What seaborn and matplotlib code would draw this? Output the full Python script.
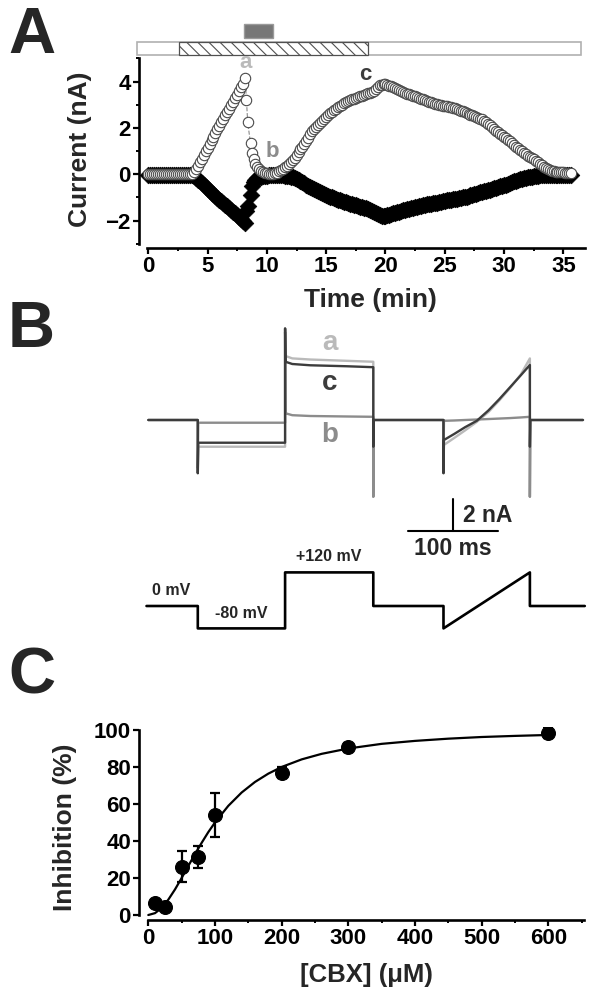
import numpy as np
import matplotlib
matplotlib.use("Agg")
import matplotlib.pyplot as plt
import matplotlib.transforms as mtransforms
from matplotlib.patches import Rectangle
from matplotlib.ticker import MultipleLocator
import seaborn as sns

# ---------------- Panel A: current time course ----------------
# 10 s sampling grid (min) + the fast points recorded between a and b
t_early = np.arange(0, 50) / 6.0
t_drop = np.array([8.28, 8.38, 8.62, 8.78, 8.9])
t_late = np.arange(54, 215) / 6.0
time_min = np.concatenate([t_early, t_drop, t_late])

# outward current at +120 mV (open circles), one row per minute
out_early = [0.0] * 18 + [
    0.0, 0.0, 0.0, 0.0, 0.02, 0.08,
    0.25, 0.38, 0.52, 0.68, 0.84, 1.0,
    1.15, 1.31, 1.47, 1.63, 1.79, 1.95,
    2.1, 2.25, 2.4, 2.55, 2.69, 2.84,
    2.98, 3.13, 3.28, 3.43, 3.59, 3.75,
    3.9, 4.15,
]
out_drop = [3.21, 2.27, 1.33, 0.9, 0.65]
out_late = [
    0.45, 0.32, 0.22, 0.15, 0.1, 0.07,
    0.05, 0.03, 0.02, 0.02, 0.04, 0.07,
    0.15, 0.2, 0.25, 0.3, 0.36, 0.44,
    0.52, 0.62, 0.72, 0.85, 0.97, 1.1,
    1.18, 1.32, 1.45, 1.58, 1.72, 1.85,
    1.95, 2.05, 2.14, 2.22, 2.31, 2.4,
    2.48, 2.56, 2.64, 2.7, 2.77, 2.83,
    2.9, 2.95, 3.0, 3.06, 3.12, 3.17,
    3.2, 3.23, 3.27, 3.3, 3.33, 3.37,
    3.4, 3.43, 3.47, 3.5, 3.53, 3.57,
    3.6, 3.68, 3.76, 3.84, 3.87, 3.88,
    3.88, 3.86, 3.83, 3.8, 3.76, 3.72,
    3.68, 3.65, 3.61, 3.57, 3.52, 3.48,
    3.45, 3.42, 3.39, 3.36, 3.33, 3.29,
    3.26, 3.23, 3.19, 3.16, 3.13, 3.1,
    3.08, 3.05, 3.02, 3.0, 2.98, 2.96,
    2.95, 2.94, 2.92, 2.91, 2.88, 2.85,
    2.82, 2.79, 2.75, 2.72, 2.68, 2.64,
    2.61, 2.58, 2.54, 2.51, 2.47, 2.43,
    2.4, 2.37, 2.31, 2.25, 2.18, 2.11,
    2.03, 1.96, 1.89, 1.82, 1.75, 1.68,
    1.62, 1.55, 1.48, 1.42, 1.35, 1.27,
    1.2, 1.13, 1.07, 1.0, 0.93, 0.87,
    0.8, 0.75, 0.69, 0.64, 0.58, 0.51,
    0.45, 0.39, 0.33, 0.27, 0.22, 0.18,
    0.15, 0.13, 0.11, 0.1, 0.09, 0.09,
    0.08, 0.07, 0.07, 0.06, 0.05,
]
out_current = np.array(out_early + out_drop + out_late)

# inward current at -80 mV (filled symbols)
in_early = [-0.03] * 18 + [
    -0.03, -0.03, -0.03, -0.03, -0.04, -0.08,
    -0.15, -0.23, -0.31, -0.39, -0.47, -0.55,
    -0.63, -0.71, -0.79, -0.86, -0.94, -1.01,
    -1.09, -1.16, -1.24, -1.31, -1.38, -1.46,
    -1.54, -1.61, -1.69, -1.77, -1.85, -1.93,
    -2.0, -2.1,
]
in_drop = [-1.6, -1.35, -0.9, -0.5, -0.32]
in_late = [
    -0.25, -0.18, -0.13, -0.1, -0.08, -0.07,
    -0.06, -0.05, -0.05, -0.04, -0.04, -0.04,
    -0.04, -0.05, -0.05, -0.06, -0.07, -0.08,
    -0.1, -0.13, -0.16, -0.19, -0.23, -0.27,
    -0.33, -0.38, -0.44, -0.49, -0.54, -0.58,
    -0.63, -0.68, -0.72, -0.76, -0.8, -0.84,
    -0.88, -0.92, -0.96, -1.0, -1.03, -1.07,
    -1.1, -1.13, -1.15, -1.18, -1.21, -1.23,
    -1.26, -1.29, -1.31, -1.34, -1.37, -1.39,
    -1.42, -1.45, -1.47, -1.5, -1.54, -1.58,
    -1.62, -1.66, -1.7, -1.74, -1.78, -1.8,
    -1.78, -1.76, -1.74, -1.72, -1.69, -1.67,
    -1.64, -1.61, -1.59, -1.56, -1.53, -1.51,
    -1.48, -1.46, -1.44, -1.42, -1.39, -1.37,
    -1.35, -1.33, -1.31, -1.29, -1.28, -1.27,
    -1.25, -1.23, -1.22, -1.2, -1.18, -1.17,
    -1.15, -1.13, -1.12, -1.1, -1.08, -1.06,
    -1.05, -1.03, -1.01, -1.0, -0.98, -0.96,
    -0.94, -0.91, -0.89, -0.86, -0.83, -0.81,
    -0.78, -0.76, -0.73, -0.71, -0.68, -0.66,
    -0.63, -0.6, -0.58, -0.55, -0.52, -0.5,
    -0.47, -0.44, -0.41, -0.38, -0.35, -0.31,
    -0.28, -0.25, -0.22, -0.2, -0.17, -0.15,
    -0.13, -0.12, -0.1, -0.09, -0.08, -0.06,
    -0.05, -0.04, -0.03, -0.02, -0.01, -0.01,
    -0.02, -0.03, -0.03, -0.04, -0.05, -0.05,
    -0.05, -0.05, -0.05, -0.05, -0.05,
]
in_current = np.array(in_early + in_drop + in_late)

# application bars (min)
recording_span = (-0.96, 36.45)
cbx_span = (2.6, 18.5)
drug_span = (8.08, 10.55)

# ---------------- Panel B: current traces and protocol ----------------
trace_ms = [0, 55, 55, 55.5, 152, 152, 152.5, 160, 180, 220, 250, 250, 250.5,
            328, 328, 328.5, 340, 352, 365, 378, 390, 402, 414, 424, 424, 424.5, 483]
trace_a = [0, 0, -3.3, -1.67, -1.67, 5.7, 4.0, 3.85, 3.78, 3.7, 3.64, -4.8, 0,
           0, -3.3, -1.56, -1.12, -0.65, -0.12, 0.5, 1.22, 2.0, 2.85, 3.85, -4.8, 0, 0]
trace_b = [0, 0, -3.0, -0.17, -0.17, 5.5, 0.42, 0.3, 0.25, 0.22, 0.2, -4.8, 0,
           0, -3.0, -0.05, -0.03, 0.0, 0.03, 0.06, 0.09, 0.12, 0.16, 0.2, -4.8, 0, 0]
trace_c = [0, 0, -3.33, -1.42, -1.42, 5.73, 3.64, 3.5, 3.42, 3.36, 3.3, -1.67, 0,
           0, -3.33, -1.25, -0.87, -0.45, -0.05, 0.6, 1.3, 2.05, 2.8, 3.44, -1.67, 0, 0]

volt_ms = [-2, 55, 55, 152, 152, 250, 250, 328, 328, 424, 424, 485]
volt_mv = [0, 0, -80, -80, 120, 120, 0, 0, -80, 120, 0, 0]

# ---------------- Panel C: dose response ----------------
cbx_um = [10, 25, 50, 75, 100, 200, 300, 600]
inhibition = [6.3, 4.5, 26.1, 31.5, 54.0, 76.9, 90.6, 98.5]
inhibition_sem = [2.0, 2.0, 8.5, 6.0, 12.0, 3.0, 2.5, 3.0]

fit_um = [0, 10, 20, 30, 40, 50, 60, 70, 80, 90, 100, 120, 140, 160, 180, 200,
          230, 260, 300, 350, 400, 450, 500, 550, 600]
fit_pct = [0, 1.0, 3.8, 8.3, 13.8, 20.0, 26.5, 32.9, 39.0, 44.8, 50.0, 59.0, 66.2,
           71.9, 76.4, 80.0, 84.1, 87.1, 90.0, 92.5, 94.1, 95.3, 96.2, 96.8, 97.3]

COL_A = "#bababa"
COL_B = "#8c8c8c"
COL_C = "#3c3c3c"

sns.set_theme(style="ticks")
plt.rcParams["font.family"] = ["Liberation Sans", "DejaVu Sans"]
plt.rcParams["font.weight"] = "bold"
plt.rcParams["axes.labelweight"] = "bold"
plt.rcParams["hatch.linewidth"] = 0.8

fig = plt.figure(figsize=(6.0, 10.01), dpi=100)


def style_axes(ax, xbounds, ybounds):
    for side in ("top", "right"):
        ax.spines[side].set_visible(False)
    for side in ("left", "bottom"):
        ax.spines[side].set_linewidth(1.9)
        ax.spines[side].set_color("black")
    ax.spines["left"].set_bounds(*ybounds)
    ax.spines["bottom"].set_bounds(*xbounds)
    ax.tick_params(which="major", direction="out", length=4, width=1.6,
                   labelsize=16, pad=2, color="black", labelcolor="black")
    ax.tick_params(which="minor", direction="out", length=2.5, width=1.4, color="black")


# ---- A ----
axA = fig.add_axes([139 / 600, 1 - 248 / 1001, 446 / 600, 190 / 1001])
sns.scatterplot(x=time_min, y=in_current, marker="D", s=72, color="black",
                edgecolor="black", linewidth=0.5, ax=axA, zorder=2)
sns.lineplot(x=time_min, y=out_current, sort=False, estimator=None, color="#8a8a8a",
             lw=0.8, linestyle="--", ax=axA, zorder=3)
sns.scatterplot(x=time_min, y=out_current, marker="o", s=56, color="white",
                edgecolor="#4a4a4a", linewidth=0.8, ax=axA, zorder=4)
axA.set_xlim(-0.78, 36.82)
axA.set_ylim(-3.18, 5.02)
axA.xaxis.set_major_locator(MultipleLocator(5))
axA.xaxis.set_minor_locator(MultipleLocator(2.5))
axA.yaxis.set_major_locator(MultipleLocator(2))
axA.yaxis.set_minor_locator(MultipleLocator(1))
style_axes(axA, (-0.1, 36.82), (-3, 5))
axA.set_xlabel("Time (min)", fontsize=19, va="center")
axA.set_ylabel("Current (nA)", fontsize=19, va="center")
axA.xaxis.set_label_coords(0.518, -0.274)
axA.yaxis.set_label_coords(-0.132, 0.52)
axA.text(8.2, 4.82, "a", color=COL_A, fontsize=16, ha="center", va="center", zorder=5)
axA.text(10.45, 1.0, "b", color=COL_B, fontsize=16, ha="center", va="center", zorder=5)
axA.text(18.3, 4.3, "c", color=COL_C, fontsize=16, ha="center", va="center", zorder=5)

bar_tr = mtransforms.blended_transform_factory(axA.transData, axA.transAxes)
axA.add_patch(Rectangle((recording_span[0], 1.014), recording_span[1] - recording_span[0], 0.072,
                        transform=bar_tr, clip_on=False, facecolor="white",
                        edgecolor="#b0b0b0", lw=1.2))
axA.add_patch(Rectangle((cbx_span[0], 1.014), cbx_span[1] - cbx_span[0], 0.072,
                        transform=bar_tr, clip_on=False, facecolor="white",
                        edgecolor="#505050", hatch="\\\\\\", lw=0.9))
axA.add_patch(Rectangle((drug_span[0], 1.107), drug_span[1] - drug_span[0], 0.072,
                        transform=bar_tr, clip_on=False, facecolor="#777777",
                        edgecolor="#9a9a9a", lw=1.0))

# ---- B ----
axB = fig.add_axes([140 / 600, 1 - 560 / 1001, 450 / 600, 240 / 1001])
for ys, col in ((trace_a, COL_A), (trace_b, COL_B), (trace_c, COL_C)):
    sns.lineplot(x=trace_ms, y=ys, sort=False, estimator=None, color=col, lw=1.7, ax=axB)
axB.set_xlim(-9.22, 490.8)
axB.set_ylim(-8.75, 6.25)
axB.axis("off")
axB.text(201.9, 4.8, "a", color=COL_A, fontsize=20, ha="center", va="center")
axB.text(201.9, 2.29, "c", color=COL_C, fontsize=20, ha="center", va="center")
axB.text(201.9, -0.94, "b", color=COL_B, fontsize=20, ha="center", va="center")
# scale bars
axB.plot([338.2, 338.2], [-6.92, -4.92], color="black", lw=1.5)
axB.plot([288.9, 388.9], [-6.92, -6.92], color="black", lw=1.5)
axB.text(350, -5.94, "2 nA", fontsize=16.5, ha="left", va="center")
axB.text(338.9, -8.02, "100 ms", fontsize=16.5, ha="center", va="center")

axV = fig.add_axes([140 / 600, 1 - 645 / 1001, 450 / 600, 85 / 1001])
sns.lineplot(x=volt_ms, y=volt_mv, sort=False, estimator=None, color="black", lw=1.9, ax=axV)
axV.set_xlim(-9.22, 490.8)
axV.set_ylim(-139.3, 164.3)
axV.axis("off")
axV.text(3.8, 57, "0 mV", fontsize=11.5, ha="left", va="center")
axV.text(103.8, -26, "-80 mV", fontsize=11.5, ha="center", va="center")
axV.text(200, 176, "+120 mV", fontsize=11.5, ha="center", va="center")

# ---- C ----
axC = fig.add_axes([139.3 / 600, 1 - 920 / 1001, 444.7 / 600, 192.8 / 1001])
sns.lineplot(x=fit_um, y=fit_pct, color="black", lw=1.6, ax=axC, zorder=2)
axC.errorbar(cbx_um, inhibition, yerr=inhibition_sem, fmt="none", ecolor="black",
             elinewidth=1.6, capsize=3.5, capthick=1.6, zorder=3)
sns.scatterplot(x=cbx_um, y=inhibition, s=100, color="black", edgecolor="black",
                ax=axC, zorder=4)
axC.set_xlim(-13.5, 653.5)
axC.set_ylim(-2.7, 101.5)
axC.xaxis.set_major_locator(MultipleLocator(100))
axC.xaxis.set_minor_locator(MultipleLocator(50))
axC.yaxis.set_major_locator(MultipleLocator(20))
style_axes(axC, (0, 653.5), (0, 100))
axC.set_xlabel("[CBX] (μM)", fontsize=18.5, va="center")
axC.set_ylabel("Inhibition (%)", fontsize=19, va="center")
axC.xaxis.set_label_coords(0.511, -0.285)
axC.yaxis.set_label_coords(-0.166, 0.48)

# panel letters
for y_base, letter in ((53, "A"), (347, "B"), (694, "C")):
    fig.text(8 / 600, 1 - y_base / 1001, letter, fontsize=47, ha="left", va="baseline")

fig.savefig("out.png", dpi=100)
